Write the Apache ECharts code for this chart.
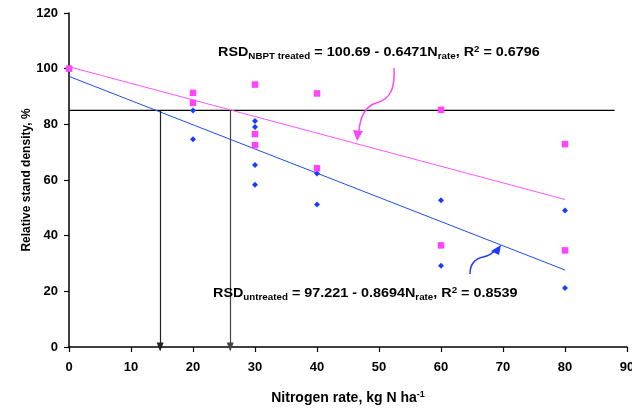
<!DOCTYPE html>
<html><head><meta charset="utf-8">
<script src="https://cdn.jsdelivr.net/npm/echarts@6/dist/echarts.min.js"></script>
<style>html,body{margin:0;padding:0;background:#fff}#c{width:632px;height:409px}</style>
</head><body><div id="c"></div>
<script>
// Data
const xTreated   = [0, 20, 20, 30, 30, 30, 40, 40, 60, 60, 80, 80];
const yTreated   = [100, 91.3, 87.7, 94.3, 76.5, 72.5, 91.1, 64.2, 85.2, 36.5, 72.9, 34.7];
const xUntreated = [0, 20, 20, 30, 30, 30, 30, 40, 40, 60, 60, 80, 80];
const yUntreated = [100, 85.0, 74.6, 81.2, 79.0, 65.4, 58.3, 62.3, 51.2, 52.7, 29.2, 49.0, 21.2];
const trendX = [0, 80];
const trendTreated = [100.69, 53.0];
const trendUntreated = [97.221, 27.67];
const thresholdX = [0, 88];
const thresholdY = [85, 85];
const dropX = [14.7, 26.0];
const xTickLabels = [0, 10, 20, 30, 40, 50, 60, 70, 80, 90];
const yTickLabels = [0, 20, 40, 60, 80, 100, 120];

const FONT = 'Liberation Sans, Arial, sans-serif';
const zip = (a, b) => a.map((v, i) => [v, b[i]]);

const chart = echarts.init(document.getElementById('c'));
const boldTxt = {fontFamily: FONT, fontWeight: 'bold', fontSize: 13, color: '#000'};

const rich = {
  b: {fontFamily: FONT, fontWeight: 'bold', fontSize: 12.5, lineHeight: 16, verticalAlign: 'middle', fill: '#000'},
  s: {fontFamily: FONT, fontWeight: 'bold', fontSize: 8.5, lineHeight: 8, verticalAlign: 'bottom', fill: '#000'},
  p: {fontFamily: FONT, fontWeight: 'bold', fontSize: 8.5, lineHeight: 8, verticalAlign: 'top', fill: '#000'}
};

chart.setOption({
  animation: false,
  backgroundColor: '#fff',
  grid: {left: 69, right: 5, top: 13, bottom: 62, containLabel: false, outerBoundsMode: 'none'},
  xAxis: {
    type: 'value', min: 0, max: 90, interval: 10,
    axisLine: {lineStyle: {color: '#000', width: 1.5}},
    axisTick: {length: 5, lineStyle: {color: '#000', width: 1.2}},
    splitLine: {show: false},
    axisLabel: Object.assign({margin: 14, formatter: v => xTickLabels.includes(v) ? String(v) : ''}, boldTxt),
    name: '{b|Nitrogen rate, kg N ha}{p|-1}',
    nameLocation: 'middle', nameGap: 43, nameMoveOverlap: false,
    nameTextStyle: {rich: {
      b: Object.assign({lineHeight: 16, verticalAlign: 'middle'}, boldTxt, {fontSize: 14}),
      p: {fontFamily: FONT, fontWeight: 'bold', fontSize: 9, lineHeight: 8, verticalAlign: 'top', color: '#000'}
    }}
  },
  yAxis: {
    type: 'value', min: 0, max: 120, interval: 20,
    axisLine: {show: true, lineStyle: {color: '#000', width: 1.5}},
    axisTick: {show: true, length: 5, lineStyle: {color: '#000', width: 1.2}},
    splitLine: {show: false},
    axisLabel: Object.assign({margin: 11, formatter: v => yTickLabels.includes(v) ? String(v) : ''}, boldTxt),
    name: 'Relative stand density, %',
    nameLocation: 'middle', nameGap: 36, nameRotate: 90, nameMoveOverlap: false,
    nameTextStyle: Object.assign({}, boldTxt, {fontSize: 12})
  },
  graphic: [
    {type: 'text', x: 218, y: 45, scaleX: 1.15, z: 10,
     style: {text: '{b|RSD}{s|NBPT treated}{b| = 100.69 - 0.6471N}{s|rate}{b|, R}{p|2}{b| = 0.6796}', rich: rich}},
    {type: 'text', x: 213, y: 286, scaleX: 1.15, z: 10,
     style: {text: '{b|RSD}{s|untreated}{b| = 97.221 - 0.8694N}{s|rate}{b|, R}{p|2}{b| = 0.8539}', rich: rich}},
    {type: 'bezierCurve', z: 10, shape: {x1: 394, y1: 68, cpx1: 395, cpy1: 86, cpx2: 392, cpy2: 99, x2: 376, y2: 103},
     style: {fill: null, stroke: '#ff44ff', lineWidth: 1.5}},
    {type: 'bezierCurve', z: 10, shape: {x1: 376, y1: 103, cpx1: 364, cpy1: 107, cpx2: 360, cpy2: 118, x2: 359, y2: 131},
     style: {fill: null, stroke: '#ff44ff', lineWidth: 1.5}},
    {type: 'polygon', z: 10, shape: {points: [[353, 130], [363, 131], [357, 141]]}, style: {fill: '#ff44ff'}},
    {type: 'bezierCurve', z: 10, shape: {x1: 470, y1: 274, cpx1: 470, cpy1: 264, cpx2: 474, cpy2: 259, x2: 483, y2: 257},
     style: {fill: null, stroke: '#1a3cff', lineWidth: 1.5}},
    {type: 'bezierCurve', z: 10, shape: {x1: 483, y1: 257, cpx1: 489, cpy1: 256, cpx2: 492, cpy2: 254, x2: 495, y2: 250},
     style: {fill: null, stroke: '#1a3cff', lineWidth: 1.5}},
    {type: 'polygon', z: 10, shape: {points: [[501, 245], [491, 251], [499, 255]]}, style: {fill: '#1a3cff'}}
  ],
  series: [
    {
      type: 'line', data: zip(thresholdX, thresholdY), symbol: 'none',
      lineStyle: {color: '#000', width: 1.2}, z: 1,
      markLine: {
        silent: true, symbol: ['none', 'triangle'], symbolSize: [7, 9],
        label: {show: false},
        lineStyle: {type: 'solid', width: 1.2},
        data: [
          [{coord: [dropX[0], thresholdY[0]], lineStyle: {color: '#222'}}, {coord: [dropX[0], 0]}],
          [{coord: [dropX[1], thresholdY[0]], lineStyle: {color: '#444'}}, {coord: [dropX[1], 0]}]
        ]
      }
    },
    {
      type: 'line', data: zip(trendX, trendUntreated), symbol: 'none',
      lineStyle: {color: '#1f4fe8', width: 1}, z: 2
    },
    {
      type: 'line', data: zip(trendX, trendTreated), symbol: 'none',
      lineStyle: {color: '#ff55ff', width: 1}, z: 2
    },
    {
      type: 'scatter', data: zip(xUntreated, yUntreated), symbol: 'diamond', symbolSize: 6,
      itemStyle: {color: '#1a3cff', opacity: 1}, z: 3
    },
    {
      type: 'scatter', data: zip(xTreated, yTreated), symbol: 'rect', symbolSize: 6.5,
      itemStyle: {color: '#ff44ff', opacity: 1}, z: 4
    }
  ]
});
</script>
</body></html>
